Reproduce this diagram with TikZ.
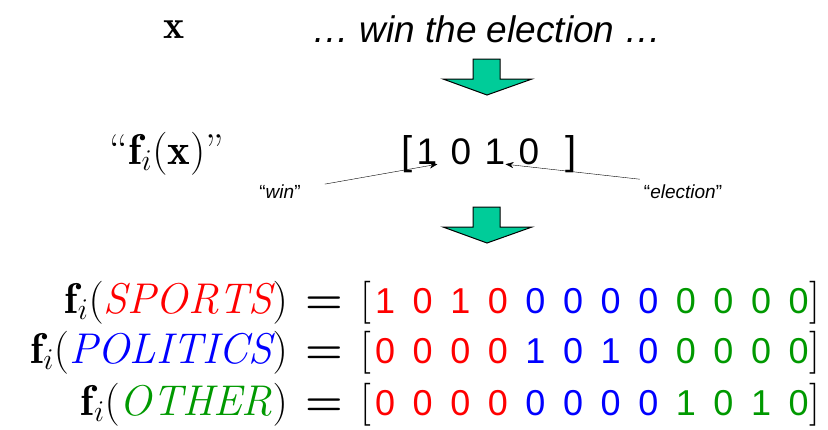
\RequirePackage{fix-cm}
\documentclass[tikz,border=0pt]{standalone}
\usepackage{fontspec}
\newfontfamily\arial{Liberation Sans}
\usetikzlibrary{arrows.meta}
\definecolor{vred}{RGB}{255,0,0}
\definecolor{vblue}{RGB}{0,0,255}
\definecolor{vgreen}{RGB}{0,153,0}
\definecolor{arrowfill}{RGB}{0,204,153}
\colorlet{grp0}{vred}
\colorlet{grp1}{vblue}
\colorlet{grp2}{vgreen}

\begin{document}
\begin{tikzpicture}[x=1pt, y=1pt, >={Stealth[length=8pt,width=6pt]},
  mathtxt/.style={inner sep=0pt, anchor=base, font=\fontsize{43}{48}\selectfont},
  topmath/.style={inner sep=0pt, anchor=base, font=\fontsize{40}{46}\selectfont},
  digit/.style={inner sep=0pt, anchor=base, font=\arial\fontsize{36}{40}\selectfont},
  sentence/.style={inner sep=0pt, anchor=base, font=\arial\itshape\fontsize{37}{42}\selectfont},
  wordlbl/.style={inner sep=0pt, anchor=base, font=\arial\fontsize{19}{22}\selectfont},
  blockarrow/.style={draw=black, line width=1pt, fill=arrowfill, line join=miter}]
  \useasboundingbox (0,0) rectangle (828,-429);

  % input
  \node[topmath] (xvar) at (174,-38) {$\mathbf{x}$};
  \node[sentence] (sent) at (487,-42) {\dots\ win the election \dots};

  % block arrows
  \def\blockdown#1{%
    \draw[blockarrow] (473,#1) -- (500,#1) -- (500,#1-20) -- (532,#1-20)
      -- (487,#1-36) -- (443,#1-20) -- (473,#1-20) -- cycle;}
  \blockdown{-59}
  \blockdown{-207}

  % feature vector
  \node[topmath, font=\fontsize{43}{48}\selectfont] (fx) at (167,-164) {``$\mathbf{f}_i(\mathbf{x})$''};
  \node[digit, anchor=base west, font=\arial\fontsize{40}{44}\selectfont] (vl) at (401,-164) {[};
  \foreach \b [count=\k] in {1,0,1,0}
    \node[digit, font=\arial\fontsize{37}{42}\selectfont] (v-\k) at (393+34*\k,-164) {\b};
  \node[digit, anchor=base east, font=\arial\fontsize{40}{44}\selectfont] (vr) at (577,-164) {]};

  \node[wordlbl] (win) at (280,-198) {“\textit{win}”};
  \node[wordlbl] (elec) at (683,-198) {“\textit{election}”};
  \draw[->] (win.east) ++(24,7) -- (v-1.south east);
  \draw[->] (elec.west) ++(-4,12) -- (v-3.south east);

  % class rows
  \foreach \row/\name/\col/\y/\bits in
    {sports/SPORTS/vred/313/{1,0,1,0,0,0,0,0,0,0,0,0},
     politics/POLITICS/vblue/363/{0,0,0,0,1,0,1,0,0,0,0,0},
     other/OTHER/vgreen/415/{0,0,0,0,0,0,0,0,1,0,1,0}} {
    \node[mathtxt, anchor=base east] (\row-lbl) at (288,-\y)
      {$\mathbf{f}_i(\textcolor{\col}{\mathit{\name}})$};
    \node[mathtxt] (\row-eq) at (324,-\y) {\bfseries =};
    \node[mathtxt, anchor=base west] (\row-l) at (360,-\y) {$[$};
    \foreach \b [count=\k] in \bits {
      \pgfmathtruncatemacro\grp{(\k-1)/4}
      \node[digit, text=grp\grp] (\row-\k) at (347.5+37.6*\k,-\y) {\b};
    }
    \node[mathtxt, anchor=base east] (\row-r) at (820,-\y) {$]$};
  }
\end{tikzpicture}
\end{document}
